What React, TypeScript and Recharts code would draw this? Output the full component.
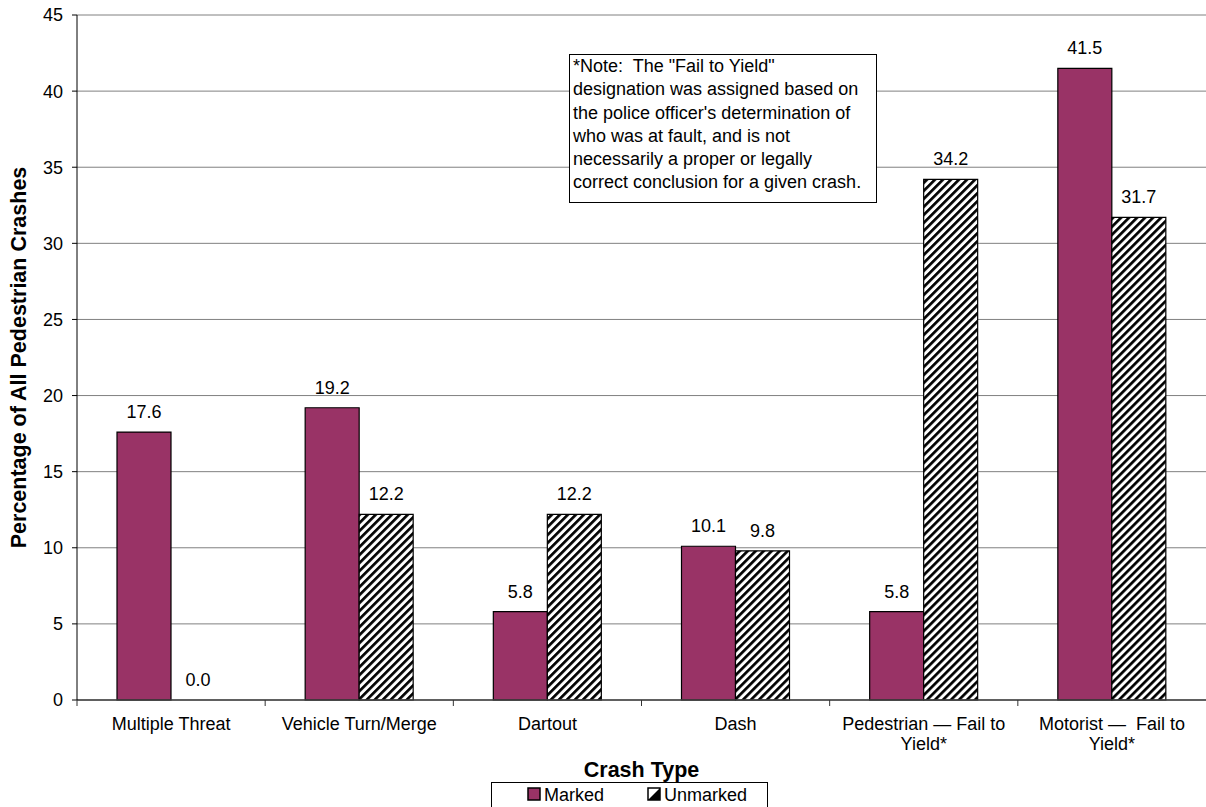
import React from "react";
import { BarChart, Bar, XAxis, YAxis, CartesianGrid, LabelList, Legend } from "recharts";

const categories = [
  "Multiple Threat",
  "Vehicle Turn/Merge",
  "Dartout",
  "Dash",
  "Pedestrian \u2014 Fail to\nYield*",
  "Motorist \u2014  Fail to\nYield*",
];
const marked = [17.6, 19.2, 5.8, 10.1, 5.8, 41.5];
const unmarked = [0.0, 12.2, 12.2, 9.8, 34.2, 31.7];
const yTicks = [0, 5, 10, 15, 20, 25, 30, 35, 40, 45];
const noteLines = [
  '*Note:  The "Fail to Yield"',
  "designation was assigned based on",
  "the police officer's determination of",
  "who was at fault, and is not",
  "necessarily a proper or legally",
  "correct conclusion for a given crash.",
];

const data = categories.map((c, i) => ({ name: c, Marked: marked[i], Unmarked: unmarked[i] }));

const FONT = "'Liberation Sans', Arial, sans-serif";
const PLUM = "#993366";
const FS = 18;
const LABEL_GAP = 14;

const XTick = (props: any) => {
  const { x, y, payload } = props;
  const lines = String(payload.value).split("\n");
  const off = payload.offset || 0;
  return (
    <g>
      <line x1={x - off} x2={x - off} y1={y} y2={y + 6} stroke="#333" strokeWidth={1} />
      <text x={x} y={y + 30} textAnchor="middle" fontSize={FS} fontFamily={FONT} fill="#000">
        {lines.map((l: string, i: number) => (
          <tspan key={i} x={x} dy={i === 0 ? 0 : 20} style={{ whiteSpace: "pre" }}>
            {l}
          </tspan>
        ))}
      </text>
    </g>
  );
};

const ValueLabel = (props: any) => {
  const { x, y, width, value } = props;
  if (value === undefined || value === null) return null;
  return (
    <text x={Number(x) + Number(width) / 2} y={Number(y) - LABEL_GAP} textAnchor="middle" fontSize={FS} fontFamily={FONT} fill="#000">
      {Number(value).toFixed(1)}
    </text>
  );
};

// Marked label; also draws the Unmarked label when that bar has zero height
// (zero-height bars are not rendered by Recharts, so their labels vanish).
const MarkedLabel = (props: any) => {
  const { x, y, width, height, index } = props;
  const u = unmarked[index];
  const base = Number(y) + Number(height);
  return (
    <g>
      <ValueLabel {...props} />
      {u === 0 ? (
        <text x={Number(x) + Number(width) * 1.5} y={base - LABEL_GAP} textAnchor="middle" fontSize={FS} fontFamily={FONT} fill="#000">
          {u.toFixed(1)}
        </text>
      ) : null}
    </g>
  );
};

const LegendBox = () => (
  <div
    style={{
      boxSizing: "border-box",
      width: 277,
      height: 30,
      border: "1px solid #000",
      background: "#fff",
      fontFamily: FONT,
      fontSize: FS,
      position: "relative",
    }}
  >
    <svg width={275} height={28} style={{ position: "absolute", left: 0, top: 0 }}>
      <rect x={36} y={5} width={12} height={12} fill={PLUM} stroke="#000" strokeWidth={1.5} />
      <text x={52} y={18} fontSize={FS} fontFamily={FONT}>Marked</text>
      <rect x={156} y={5} width={12} height={12} fill="#fff" stroke="#000" strokeWidth={1.5} />
      <polygon points="156,17 168,5 168,17" fill="#000" />
      <text x={172} y={18} fontSize={FS} fontFamily={FONT}>Unmarked</text>
    </svg>
  </div>
);

export default function App() {
  return (
    <div style={{ position: "absolute", left: 0, top: 0, width: 1206, height: 807, background: "#fff", overflow: "hidden" }}>
      <BarChart
        width={1206}
        height={807}
        data={data}
        margin={{ top: 15, right: 0, bottom: 0, left: 0 }}
        barCategoryGap={40}
        barGap={0}
      >
        <defs>
          <pattern id="hatch" patternUnits="userSpaceOnUse" width={5.66} height={5.66} patternTransform="rotate(45)">
            <rect width={5.66} height={5.66} fill="#fff" />
            <line x1={0} y1={0} x2={0} y2={5.66} stroke="#000" strokeWidth={5.4} />
          </pattern>
        </defs>
        <CartesianGrid vertical={false} stroke="#808080" strokeWidth={1} />
        <XAxis
          dataKey="name"
          interval={0}
          tick={<XTick />}
          tickLine={false}
          tickSize={0}
          tickMargin={0}
          height={82}
          axisLine={{ stroke: "#404040", strokeWidth: 1.5 }}
          label={{ value: "Crash Type", position: "insideBottom", offset: 5, fontSize: 21.5, fontWeight: "bold", fontFamily: FONT, fill: "#000" }}
        />
        <YAxis
          domain={[0, 45]}
          ticks={yTicks}
          interval={0}
          width={77}
          tickSize={5}
          tickMargin={9}
          axisLine={{ stroke: "#000", strokeWidth: 1 }}
          tickLine={{ stroke: "#000" }}
          tick={{ fontSize: FS, fontFamily: FONT, fill: "#000" }}
          label={{
            value: "Percentage of All Pedestrian Crashes",
            angle: -90,
            position: "center",
            dx: -20,
            fontSize: 21.5,
            fontWeight: "bold",
            fontFamily: FONT,
            fill: "#000",
          }}
        />
        <Legend
          verticalAlign="bottom"
          content={<LegendBox />}
          wrapperStyle={{ left: 491, width: 277, height: 25, overflow: "visible" }}
        />
        <Bar dataKey="Marked" fill={PLUM} stroke="#000" strokeWidth={1.2} isAnimationActive={false}>
          <LabelList dataKey="Marked" content={<MarkedLabel />} />
        </Bar>
        <Bar dataKey="Unmarked" fill="url(#hatch)" stroke="#000" strokeWidth={1.2} isAnimationActive={false}>
          <LabelList dataKey="Unmarked" content={<ValueLabel />} />
        </Bar>
      </BarChart>
      <div
        style={{
          position: "absolute",
          left: 569,
          top: 54,
          width: 308,
          height: 149,
          boxSizing: "border-box",
          border: "1px solid #000",
          background: "#fff",
          fontFamily: FONT,
          fontSize: 18,
          lineHeight: "23.3px",
          padding: "0 3px",
          whiteSpace: "pre",
          color: "#000",
        }}
      >
        {noteLines.join("\n")}
      </div>
    </div>
  );
}
